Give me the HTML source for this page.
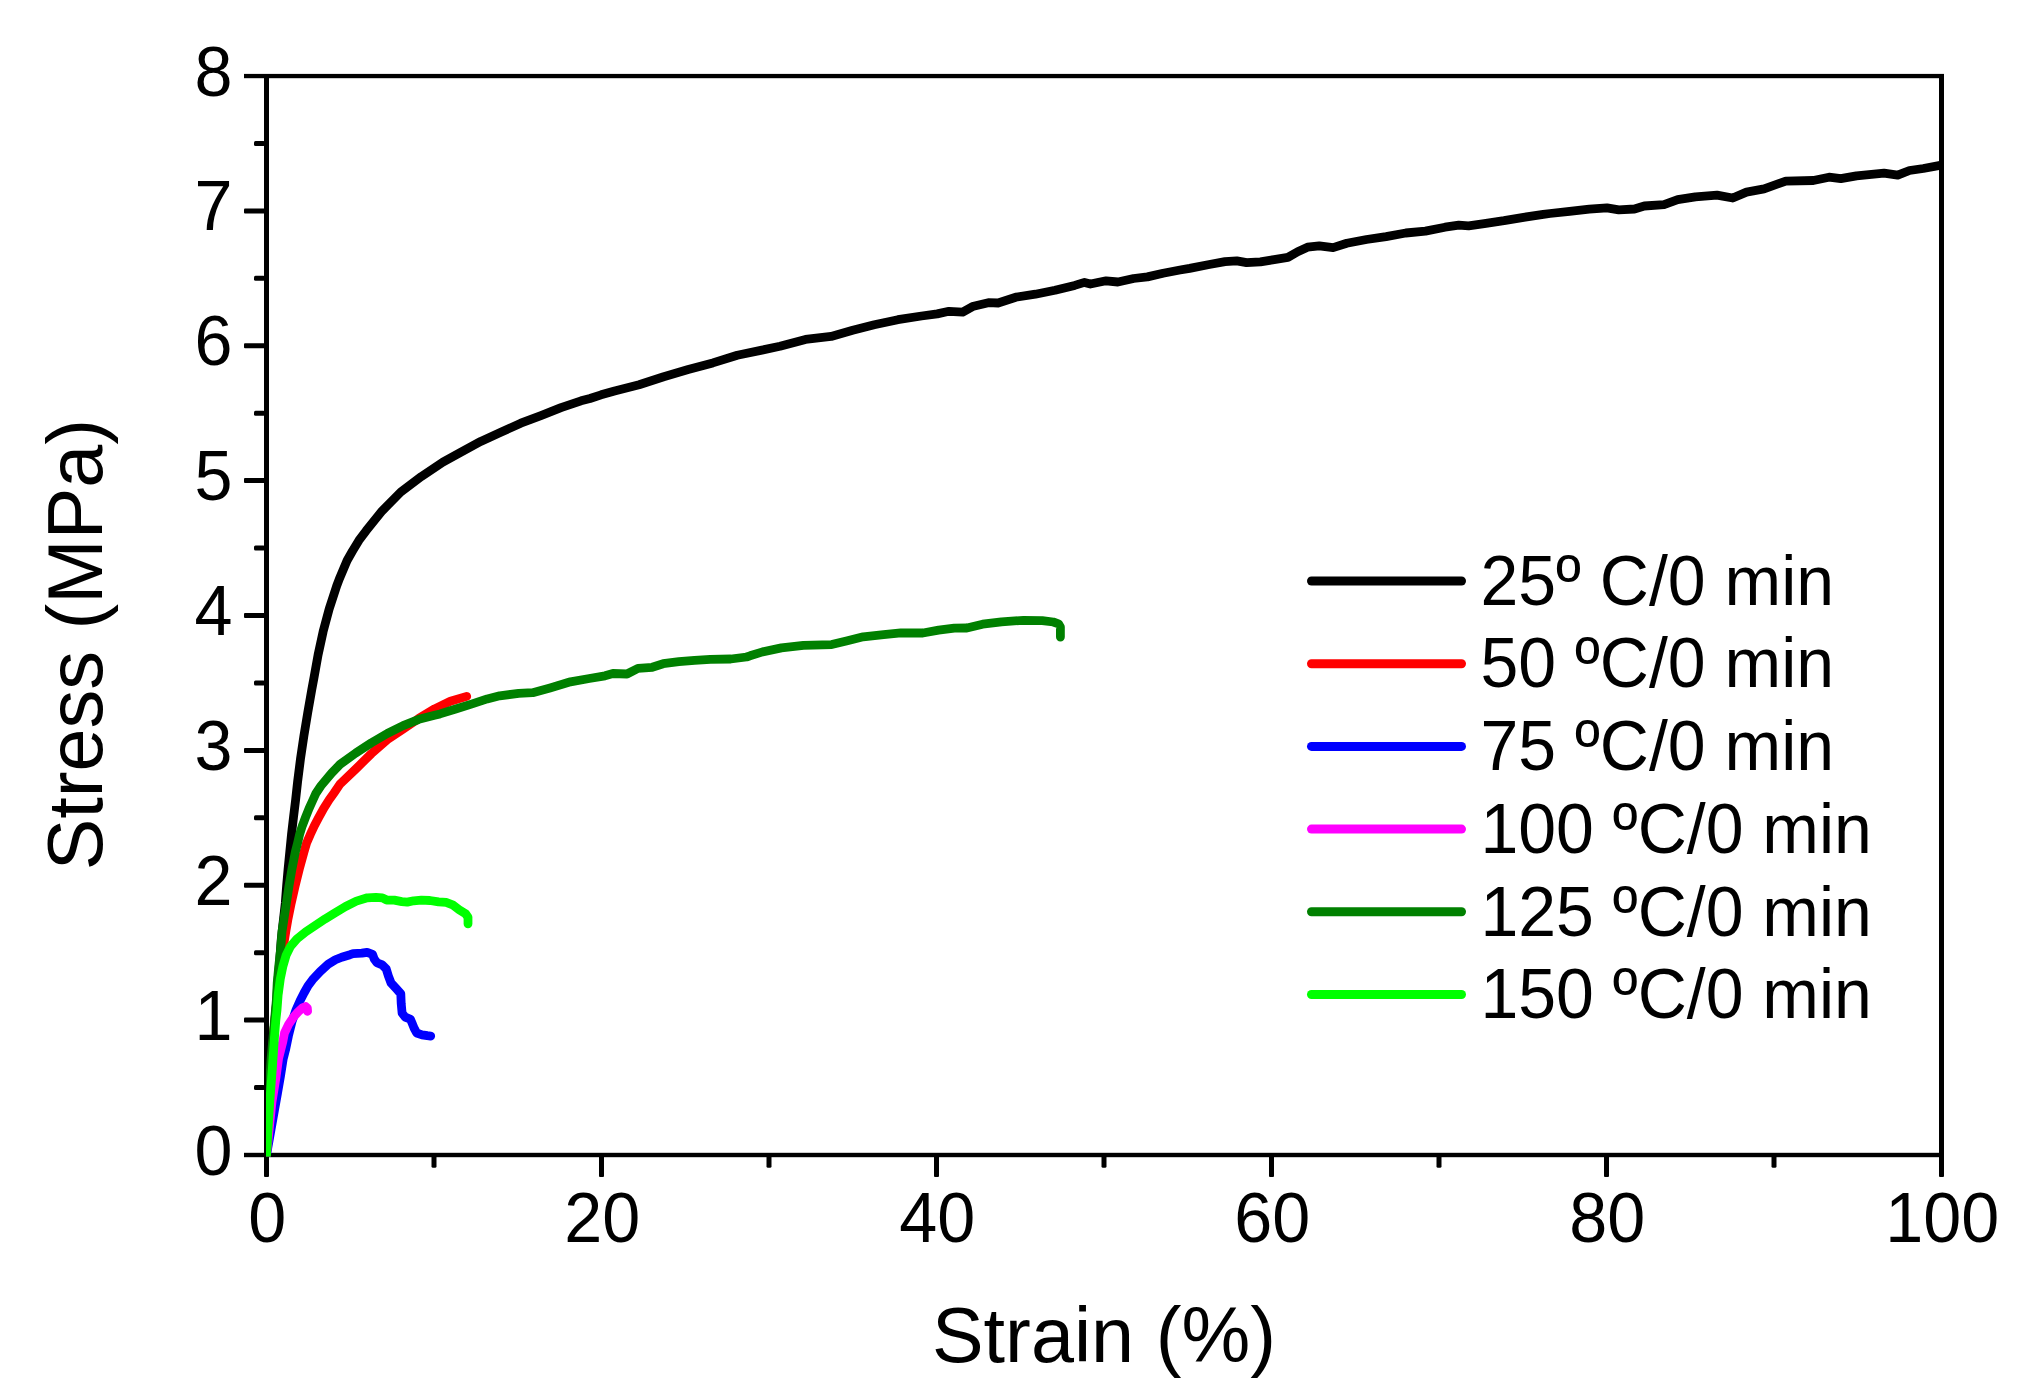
<!DOCTYPE html>
<html lang="en">
<head>
<meta charset="utf-8">
<title>Stress-Strain curves</title>
<style>
html,body{margin:0;padding:0;background:#fff;}
body{width:2036px;height:1395px;overflow:hidden;}
svg{display:block;}
text{font-family:"Liberation Sans",Arial,Helvetica,sans-serif;fill:#000;}
</style>
</head>
<body>
<svg width="2036" height="1395" viewBox="0 0 2036 1395">
<rect x="0" y="0" width="2036" height="1395" fill="#ffffff"/>
<defs><clipPath id="plotclip"><rect x="266" y="60" width="1676" height="1096.5"/></clipPath></defs>

<g fill="#000">
<rect x="264" y="74" width="5" height="1083"/>
<rect x="1939" y="74" width="5" height="1083"/>
<rect x="244" y="73.9" width="1700" height="4.3"/>
<rect x="244" y="1152.8" width="1700" height="4.4"/>
<rect x="244" y="1017.6" width="21" height="5" rx="1"/>
<rect x="244" y="882.8" width="21" height="5" rx="1"/>
<rect x="244" y="747.9" width="21" height="5" rx="1"/>
<rect x="244" y="613.0" width="21" height="5" rx="1"/>
<rect x="244" y="478.1" width="21" height="5" rx="1"/>
<rect x="244" y="343.2" width="21" height="5" rx="1"/>
<rect x="244" y="208.4" width="21" height="5" rx="1"/>
<rect x="254" y="1085.1" width="11" height="5" rx="1.5"/>
<rect x="254" y="950.2" width="11" height="5" rx="1.5"/>
<rect x="254" y="815.3" width="11" height="5" rx="1.5"/>
<rect x="254" y="680.4" width="11" height="5" rx="1.5"/>
<rect x="254" y="545.6" width="11" height="5" rx="1.5"/>
<rect x="254" y="410.7" width="11" height="5" rx="1.5"/>
<rect x="254" y="275.8" width="11" height="5" rx="1.5"/>
<rect x="254" y="140.9" width="11" height="5" rx="1.5"/>
<rect x="264.0" y="1156" width="5" height="21" rx="1"/>
<rect x="599.0" y="1156" width="5" height="21" rx="1"/>
<rect x="934.0" y="1156" width="5" height="21" rx="1"/>
<rect x="1269.0" y="1156" width="5" height="21" rx="1"/>
<rect x="1604.0" y="1156" width="5" height="21" rx="1"/>
<rect x="1939.0" y="1156" width="5" height="21" rx="1"/>
<rect x="431.5" y="1156" width="5" height="11.8" rx="1.5"/>
<rect x="766.5" y="1156" width="5" height="11.8" rx="1.5"/>
<rect x="1101.5" y="1156" width="5" height="11.8" rx="1.5"/>
<rect x="1436.5" y="1156" width="5" height="11.8" rx="1.5"/>
<rect x="1771.5" y="1156" width="5" height="11.8" rx="1.5"/>
</g>
<g clip-path="url(#plotclip)" fill="none" stroke-linejoin="round" stroke-linecap="round">
<path d="M266.5,1155.0 L268.7,1101.0 L271.2,1060.0 L274.5,1024.4 L276.8,1000.0 L277.7,983.2 L279.3,966.0 L281.2,940.0 L283.4,920.0 L285.3,903.2 L286.6,886.0 L288.1,868.8 L289.8,851.6 L291.5,834.4 L293.5,817.2 L295.6,800.0 L297.6,781.7 L300.5,758.8 L303.9,735.9 L307.7,712.9 L311.7,690.0 L314.0,677.6 L318.1,654.7 L323.1,631.7 L329.2,608.8 L336.7,585.9 L339.3,579.0 L347.1,560.5 L352.5,551.0 L358.9,540.4 L366.1,530.8 L382.2,510.8 L400.8,492.0 L421.3,476.6 L442.9,462.1 L460.6,452.3 L480.7,441.4 L500.8,432.2 L520.8,423.2 L540.9,415.7 L561.0,407.7 L581.1,400.8 L590.0,398.5 L601.1,394.8 L614.6,390.9 L639.1,384.7 L663.7,376.7 L688.2,369.5 L712.8,362.9 L737.3,355.2 L761.9,350.1 L780.0,346.3 L805.5,339.4 L831.1,336.4 L852.7,330.2 L874.3,324.7 L897.9,319.7 L921.5,316.0 L937.2,313.9 L949.0,311.3 L962.7,312.1 L972.5,306.6 L988.3,302.7 L998.1,303.0 L1015.8,297.2 L1035.4,294.2 L1055.0,290.3 L1074.7,285.4 L1084.5,282.4 L1090.4,284.0 L1106.1,280.8 L1117.9,282.0 L1133.6,278.5 L1147.4,276.9 L1163.1,273.2 L1180.0,270.0 L1189.6,268.4 L1209.3,264.5 L1225.0,261.7 L1236.8,260.9 L1246.6,262.7 L1260.4,261.9 L1274.1,259.6 L1287.9,257.4 L1297.7,251.7 L1307.5,247.2 L1319.3,245.8 L1333.1,247.6 L1346.8,243.3 L1366.5,239.5 L1386.1,236.6 L1405.8,233.0 L1425.4,231.1 L1445.0,227.2 L1458.8,225.2 L1468.6,225.8 L1484.3,223.6 L1504.0,220.7 L1523.6,217.3 L1543.3,214.4 L1550.0,213.5 L1569.6,211.3 L1589.3,209.2 L1607.0,207.8 L1618.8,209.8 L1634.5,209.0 L1644.3,206.0 L1664.0,204.7 L1677.7,199.7 L1695.4,196.8 L1717.0,195.2 L1732.7,198.0 L1746.5,192.1 L1764.1,188.9 L1785.8,181.1 L1813.3,180.5 L1829.0,177.2 L1840.8,178.7 L1856.5,175.8 L1884.0,173.2 L1897.7,175.2 L1909.5,170.5 L1923.3,168.5 L1941.5,165.2" stroke="#000000" stroke-width="8.8"/>
<path d="M266.5,1155.0 L270.0,1090.0 L274.0,1030.0 L278.5,985.0 L282.0,960.0 L284.4,940.2 L285.8,931.6 L287.8,920.0 L291.2,903.2 L295.1,886.0 L299.4,868.8 L304.1,851.6 L306.6,843.0 L310.3,834.4 L314.3,825.8 L318.9,817.2 L323.6,808.6 L329.0,800.0 L334.0,793.0 L340.0,784.1 L355.8,769.0 L371.5,753.5 L387.3,739.6 L403.1,729.0 L414.9,721.2 L418.9,718.3 L434.6,708.9 L450.4,701.3 L466.7,696.4" stroke="#ff0000" stroke-width="8.8"/>
<path d="M266.5,1155.0 L274.5,1110.0 L277.5,1093.2 L280.5,1076.0 L283.2,1058.8 L285.5,1050.0 L288.4,1036.0 L292.0,1021.7 L296.0,1010.0 L300.3,1000.2 L304.0,993.0 L308.0,985.8 L313.4,978.7 L320.2,971.5 L328.1,964.3 L335.4,959.8 L341.7,957.2 L350.0,954.7 L353.1,953.6 L361.9,953.2 L367.2,952.3 L372.5,954.3 L374.3,959.2 L376.9,962.7 L382.2,964.9 L386.2,968.9 L388.4,976.0 L391.1,983.1 L396.4,988.8 L400.8,993.7 L401.2,1003.4 L402.1,1013.1 L405.2,1017.1 L410.5,1019.3 L412.3,1023.7 L414.1,1028.1 L416.7,1033.0 L422.0,1034.8 L427.3,1035.7 L430.7,1036.1" stroke="#0000ff" stroke-width="8.8"/>
<path d="M266.5,1155.0 L272.0,1101.8 L276.2,1076.0 L278.5,1058.8 L282.8,1041.6 L284.5,1033.0 L288.6,1024.4 L293.5,1017.1 L298.0,1012.0 L302.6,1007.8 L305.6,1006.5 L307.3,1008.0 L307.6,1011.3" stroke="#ff00ff" stroke-width="8.8"/>
<path d="M266.5,1155.0 L268.5,1101.0 L271.0,1060.0 L274.2,1024.4 L276.4,1000.0 L277.2,983.2 L278.8,966.0 L280.7,948.8 L282.0,931.6 L283.8,920.0 L286.4,903.2 L289.0,886.0 L292.0,868.8 L295.4,851.6 L297.6,843.0 L299.6,834.4 L302.3,825.8 L305.6,817.2 L309.0,808.6 L312.9,800.0 L316.0,793.2 L321.0,785.8 L331.6,773.1 L340.0,764.4 L355.8,753.0 L371.5,742.7 L387.3,733.5 L403.1,725.6 L418.9,719.3 L434.6,715.3 L440.0,713.9 L455.7,709.0 L471.4,704.1 L487.2,698.9 L499.7,695.8 L518.6,693.3 L532.7,692.7 L550.0,687.9 L570.5,681.8 L589.3,678.5 L605.0,675.8 L612.9,673.5 L627.0,674.0 L638.0,668.3 L652.2,667.3 L663.2,663.7 L678.9,661.7 L694.6,660.3 L710.3,659.3 L730.8,659.0 L746.5,657.0 L750.0,655.8 L762.6,651.9 L781.4,647.9 L803.4,645.3 L831.7,644.6 L847.4,640.7 L863.2,636.8 L883.6,634.7 L900.9,632.8 L922.9,633.0 L938.6,630.2 L954.3,628.1 L966.9,628.0 L982.6,624.2 L1001.5,621.8 L1023.5,620.3 L1042.3,620.6 L1053.3,622.0 L1058.5,623.8 L1060.4,627.0 L1060.4,637.1" stroke="#008000" stroke-width="8.8"/>
<path d="M266.5,1155.0 L267.7,1133.5 L269.8,1101.3 L272.3,1069.0 L274.5,1036.8 L275.8,1020.6 L277.0,1010.0 L278.1,995.1 L280.3,978.9 L283.0,965.9 L286.2,955.1 L290.5,946.4 L297.0,938.9 L305.7,931.9 L315.4,925.4 L325.1,918.9 L334.8,912.9 L345.6,906.5 L356.4,901.1 L367.3,897.8 L375.9,897.3 L382.4,897.8 L386.7,900.0 L394.3,900.2 L401.8,901.6 L407.2,902.1 L413.7,900.8 L421.3,900.2 L429.9,900.5 L438.6,901.9 L446.1,902.4 L452.6,904.8 L459.1,909.7 L465.6,913.7 L468.0,917.3 L468.0,923.8" stroke="#00ff00" stroke-width="8.8"/>
</g>
<text transform="translate(232.6,1174.5) scale(1.0,1.04)" font-size="68.3" text-anchor="end">0</text>
<text transform="translate(232.6,1039.6) scale(1.0,1.04)" font-size="68.3" text-anchor="end">1</text>
<text transform="translate(232.6,904.8) scale(1.0,1.04)" font-size="68.3" text-anchor="end">2</text>
<text transform="translate(232.6,769.9) scale(1.0,1.04)" font-size="68.3" text-anchor="end">3</text>
<text transform="translate(232.6,635.0) scale(1.0,1.04)" font-size="68.3" text-anchor="end">4</text>
<text transform="translate(232.6,500.1) scale(1.0,1.04)" font-size="68.3" text-anchor="end">5</text>
<text transform="translate(232.6,365.2) scale(1.0,1.04)" font-size="68.3" text-anchor="end">6</text>
<text transform="translate(232.6,230.4) scale(1.0,1.04)" font-size="68.3" text-anchor="end">7</text>
<text transform="translate(232.6,95.5) scale(1.0,1.04)" font-size="68.3" text-anchor="end">8</text>
<text transform="translate(267.3,1242.3) scale(1.0,1.04)" font-size="68.3" text-anchor="middle">0</text>
<text transform="translate(602.3,1242.3) scale(1.0,1.04)" font-size="68.3" text-anchor="middle">20</text>
<text transform="translate(937.3,1242.3) scale(1.0,1.04)" font-size="68.3" text-anchor="middle">40</text>
<text transform="translate(1272.3,1242.3) scale(1.0,1.04)" font-size="68.3" text-anchor="middle">60</text>
<text transform="translate(1607.3,1242.3) scale(1.0,1.04)" font-size="68.3" text-anchor="middle">80</text>
<text transform="translate(1942.3,1242.3) scale(1.0,1.04)" font-size="68.3" text-anchor="middle">100</text>
<text transform="translate(1104.0,1362.0) scale(1.0,1.015)" font-size="77.4" text-anchor="middle">Strain (%)</text>
<text transform="translate(101.8,644.6) rotate(-90) scale(1.0,1.015)" font-size="77.4" text-anchor="middle">Stress (MPa)</text>
<g stroke-width="9" stroke-linecap="round">
<line x1="1311.5" y1="581.0" x2="1461.5" y2="581.0" stroke="#000000"/>
<line x1="1311.5" y1="663.7" x2="1461.5" y2="663.7" stroke="#ff0000"/>
<line x1="1311.5" y1="746.4" x2="1461.5" y2="746.4" stroke="#0000ff"/>
<line x1="1311.5" y1="829.1" x2="1461.5" y2="829.1" stroke="#ff00ff"/>
<line x1="1311.5" y1="911.8" x2="1461.5" y2="911.8" stroke="#008000"/>
<line x1="1311.5" y1="994.5" x2="1461.5" y2="994.5" stroke="#00ff00"/>
</g>
<text transform="translate(1480.5,604.7) scale(1.0,1.035)" font-size="68.0" text-anchor="start">25º C/0 min</text>
<text transform="translate(1480.5,687.4) scale(1.0,1.035)" font-size="68.0" text-anchor="start">50 ºC/0 min</text>
<text transform="translate(1480.5,770.1) scale(1.0,1.035)" font-size="68.0" text-anchor="start">75 ºC/0 min</text>
<text transform="translate(1480.5,852.8) scale(1.0,1.035)" font-size="68.0" text-anchor="start">100 ºC/0 min</text>
<text transform="translate(1480.5,935.5) scale(1.0,1.035)" font-size="68.0" text-anchor="start">125 ºC/0 min</text>
<text transform="translate(1480.5,1018.2) scale(1.0,1.035)" font-size="68.0" text-anchor="start">150 ºC/0 min</text>
</svg>
</body>
</html>
